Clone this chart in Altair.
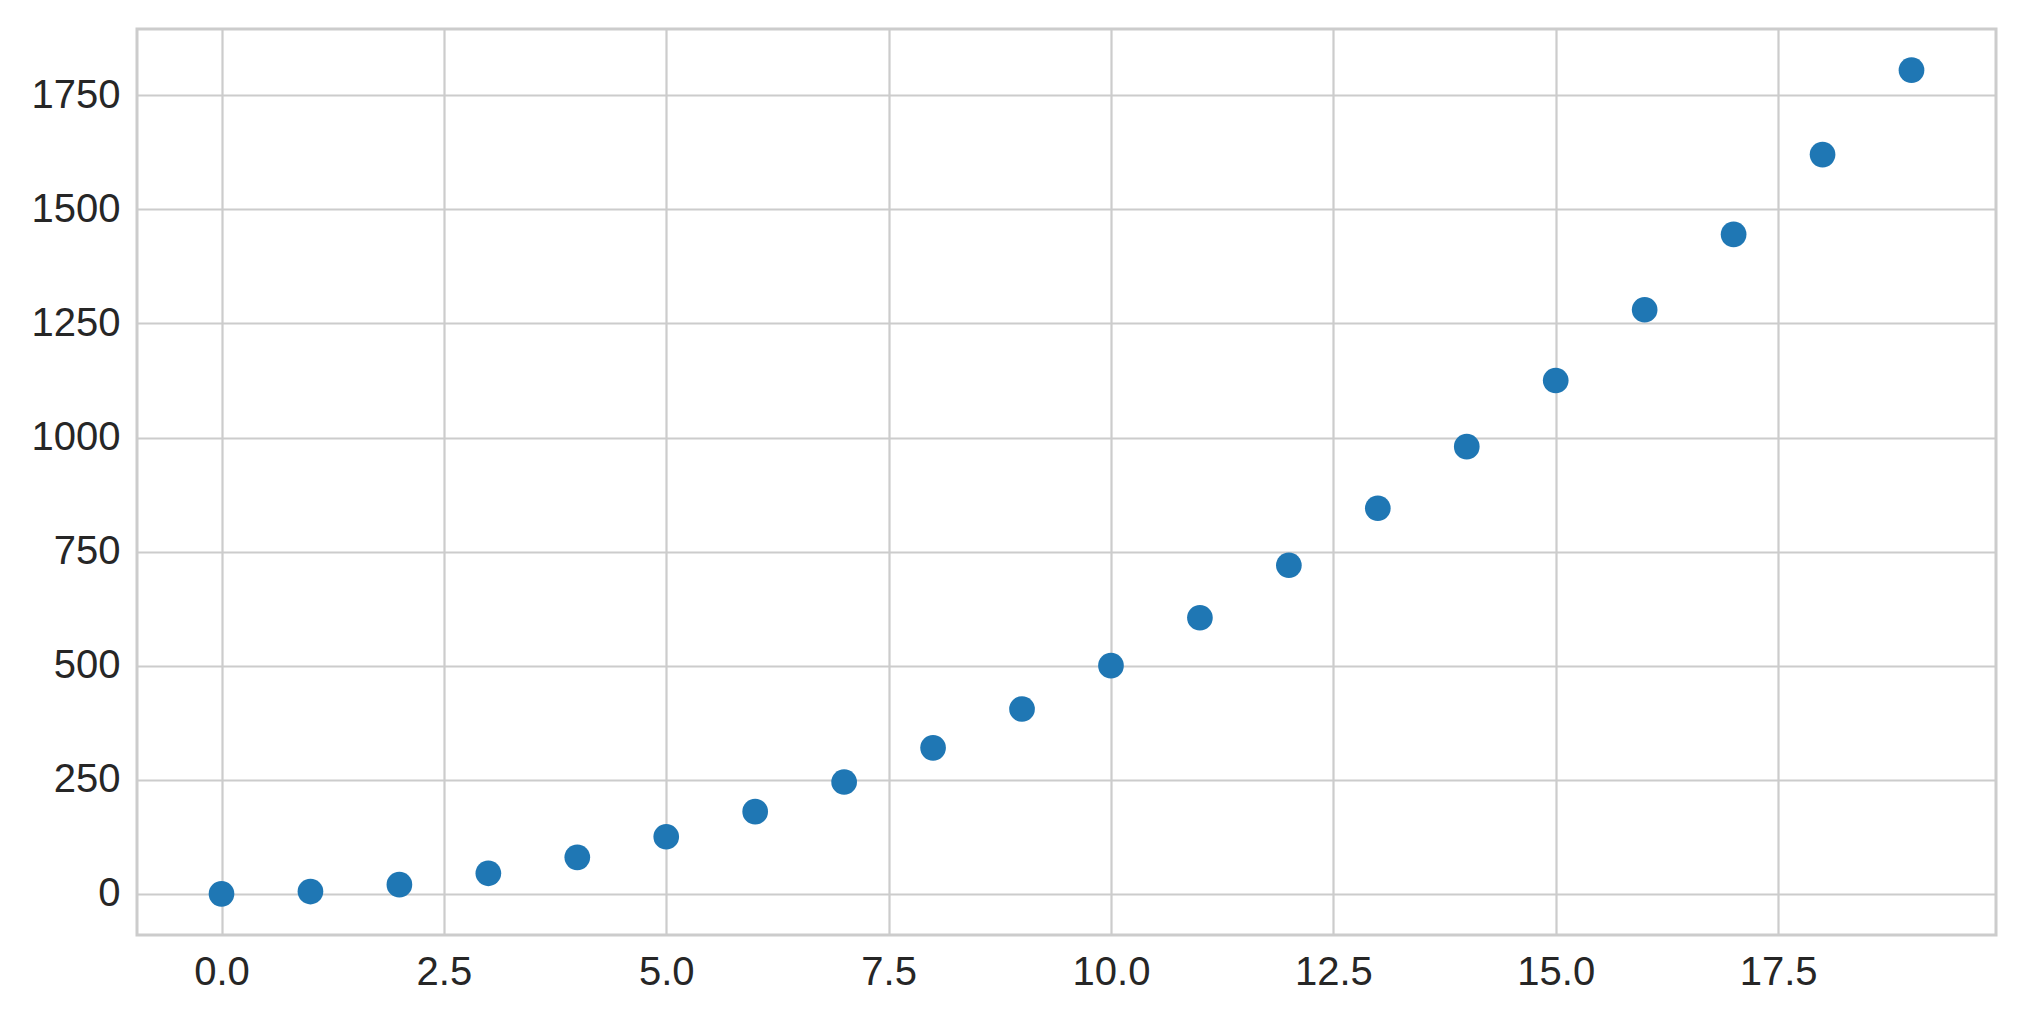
import altair as alt
import pandas as pd

x_values = list(range(20))
y_values = [0, 5, 20, 45, 80, 125, 180, 245, 320, 405, 500, 605, 720, 845, 980, 1125, 1280, 1445, 1620, 1805]

x_ticks = [0, 2.5, 5, 7.5, 10, 12.5, 15, 17.5]
y_ticks = [0, 250, 500, 750, 1000, 1250, 1500, 1750]

df = pd.DataFrame({"x": x_values, "y": y_values})

axis_common = dict(
    ticks=False,
    domain=False,
    grid=True,
    gridColor="#cccccc",
    gridWidth=2.2,
    labelFont="Liberation Sans",
    labelFontSize=40,
    labelColor="#262626",
    title=None,
)

chart = (
    alt.Chart(df)
    .mark_circle(size=660, color="#1f77b4", opacity=1)
    .encode(
        x=alt.X(
            "x:Q",
            scale=alt.Scale(domain=[-0.95, 19.95], nice=False, zero=False),
            axis=alt.Axis(values=x_ticks, format=".1f", labelPadding=17, **axis_common),
        ),
        y=alt.Y(
            "y:Q",
            scale=alt.Scale(domain=[-90.25, 1895.25], nice=False, zero=False),
            axis=alt.Axis(values=y_ticks, format="d", labelPadding=17, **axis_common),
        ),
    )
    .properties(
        width=1859,
        height=906,
        autosize=alt.AutoSizeParams(type="none"),
        padding={"left": 129, "top": 21, "right": 20, "bottom": 70},
    )
    .configure_view(stroke="#cccccc", strokeWidth=3)
)

chart.save("out.html", embed_options={"renderer": "svg", "actions": False})
